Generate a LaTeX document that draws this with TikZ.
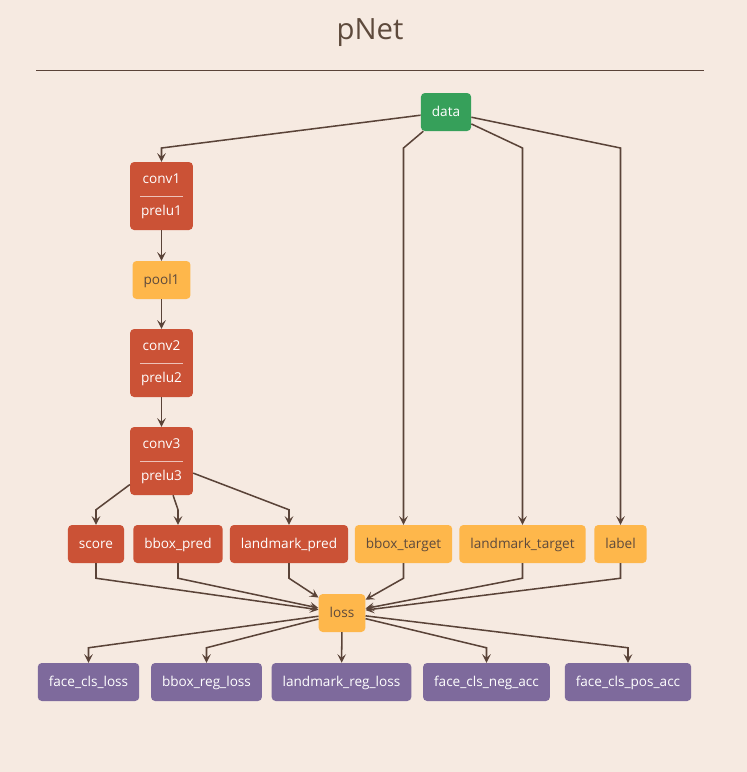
\documentclass[tikz,border=0pt]{standalone}
\usepackage{fontspec}
\setmainfont{Open Sans}
\usepackage{xcolor}
\usetikzlibrary{arrows.meta,positioning}
\definecolor{bgcol}{HTML}{F6EAE1}
\definecolor{linecol}{HTML}{5A4338}
\definecolor{greencol}{HTML}{36A05A}
\definecolor{redcol}{HTML}{CB5236}
\definecolor{orangecol}{HTML}{FEB74B}
\definecolor{purplecol}{HTML}{7E6A9C}
\definecolor{textcol}{HTML}{5E4A3C}
\begin{document}
\begin{tikzpicture}[x=0.3mm,y=-0.3mm,>={Stealth[length=2.6mm,width=2.6mm,inset=1.1mm]},
box/.style={rounded corners=1.2mm,minimum height=11.4mm,inner xsep=3.3mm,font=\fontsize{11.6}{13}\selectfont},
onebox/.style={box,text height=1.55ex,text depth=0.25ex},
databox/.style={onebox,fill=greencol,text=white},
layerbox/.style={onebox,fill=redcol,text=white},
pairbox/.style={box,fill=redcol,text=white,minimum width=18.3mm,minimum height=20.4mm,align=center,font=\fontsize{11.6}{27}\selectfont},
blobbox/.style={onebox,fill=orangecol,text=textcol},
outbox/.style={onebox,fill=purplecol,text=white},
divider/.style={draw=white!65!redcol,line width=0.6pt},
arr/.style={->,draw=linecol,line width=1.3pt}]
\fill[bgcol](0,0)rectangle(747,772);
\useasboundingbox(0,0)rectangle(747,772);
\node[text=textcol,font=\fontsize{25}{30}\selectfont](title)at(370,33){pNet};
\draw[linecol,line width=0.3mm](36,70)--(704,70);

\node[databox](data)at(446,112){data};
\node[pairbox](conv1)at(161.5,196){conv1\\prelu1};
\node[blobbox](pool1)at(161.5,280){pool1};
\node[pairbox](conv2)at(161.5,363){conv2\\prelu2};
\node[pairbox](conv3)at(161.5,461){conv3\\prelu3};
\foreach \n in {conv1,conv2,conv3}
  \draw[divider]([xshift=3mm]\n.west)--([xshift=-3mm]\n.east);

\node[layerbox](score)at(96,544){score};
\node[layerbox](bboxpred)at(178,544){bbox\_pred};
\node[layerbox](landmarkpred)at(289,544){landmark\_pred};
\node[blobbox](bboxtarget)at(403.5,544){bbox\_target};
\node[blobbox](landmarktarget)at(522.5,544){landmark\_target};
\node[blobbox](label)at(620.5,544){label};
\node[blobbox](loss)at(342,613){loss};

\node[outbox](faceclsloss)at(88.5,682){face\_cls\_loss};
\node[outbox](bboxregloss)at(206.5,682){bbox\_reg\_loss};
\node[outbox](landmarkregloss)at(341.5,682){landmark\_reg\_loss};
\node[outbox](faceclsnegacc)at(486.5,682){face\_cls\_neg\_acc};
\node[outbox](faceclsposacc)at(628,682){face\_cls\_pos\_acc};

\coordinate(databend)at(0,148);
\foreach \t in {conv1,bboxtarget,landmarktarget,label}
  \draw[arr](data)--(\t.north|-databend)--(\t);
\draw[arr](conv1)--(pool1);
\draw[arr](pool1)--(conv2);
\draw[arr](conv2)--(conv3);
\foreach \t in {score,bboxpred,landmarkpred}
  \draw[arr](conv3)--([yshift=4.5mm]\t.north)--(\t);
\foreach \s in {score,bboxpred,landmarkpred,bboxtarget,landmarktarget,label}
  \draw[arr](\s)--([yshift=-4.5mm]\s.south)--(loss);
\foreach \t in {faceclsloss,bboxregloss,faceclsnegacc,faceclsposacc}
  \draw[arr](loss)--([yshift=4.5mm]\t.north)--(\t);
\draw[arr](loss)--(landmarkregloss);
\end{tikzpicture}
\end{document}
